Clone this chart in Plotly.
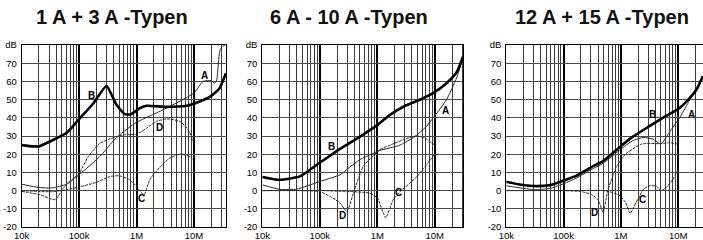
import math
import plotly.graph_objects as go

# ---------------- text / ticks ----------------
titles = ["1 A + 3 A -Typen", "6 A - 10 A -Typen", "12 A + 15 A -Typen"]
x_tick_vals = [1e4, 1e5, 1e6, 1e7]
x_tick_text = ["10k", "100k", "1M", "10M"]
y_tick_vals = [-20, -10, 0, 10, 20, 30, 40, 50, 60, 70, 80]
y_tick_text = ["-20", "-10", "0", "10", "20", "30", "40", "50", "60", "70", "dB"]

# ---------------- panel 1: 1 A + 3 A ----------------
p1_B_f = [1e4, 1.6e4, 2e4, 3.1e4, 6e4, 1e5, 1.78e5, 3e5, 4.5e5, 6.3e5, 8e5, 1.15e6, 1.5e6,
          3.3e6, 7.4e6, 1.26e7, 1.9e7, 2.8e7, 3.6e7]
p1_B_db = [25, 24.3, 24.3, 27, 31.6, 39.3, 48, 57.5, 47, 42, 42, 45.3, 46.6,
           46, 46.6, 49, 51.5, 56.3, 64.5]
p1_A_f = [1e4, 2e4, 3.5e4, 6e4, 1e5, 2.35e5, 3.5e5, 4.8e5, 1e6, 2e6, 3.4e6, 6e6, 1e7,
          1.44e7, 2e7, 2.3e7, 2.5e7, 2.7e7, 2.85e7, 3.2e7, 3.5e7]
p1_A_db = [3.5, 1.7, 1.5, 3.5, 8.7, 19, 25.5, 30, 37.5, 42, 45.5, 49.5, 53.5,
           60, 60.4, 59, 60.8, 71.8, 77.3, 79.5, 80]
p1_C_f = [1e4, 2e4, 3.5e4, 6e4, 1e5, 2e5, 3.5e5, 5.1e5, 7.6e5, 1e6, 1.35e6, 1.7e6, 2.6e6,
          3.8e6, 5.7e6, 8.5e6, 1e7]
p1_C_db = [0, -0.5, -0.6, 0.5, 2, 4.5, 7.8, 8.1, 5.9, 2.3, -2.3, 5.9, 13.2,
           17.9, 20, 18.7, 16.5]
p1_D_f = [1e4, 2.1e4, 3.8e4, 5.6e4, 1e5, 1.45e5, 2.3e5, 3.5e5, 5.9e5, 1e6, 1.5e6, 2.2e6,
          3.4e6, 5.7e6, 8e6, 1e7]
p1_D_db = [-0.4, -2.3, -5, 2.3, 9.6, 18.8, 26, 28.5, 30.6, 31, 34.3, 38,
           39.4, 38, 33.4, 26.1]

# ---------------- panel 2: 6 A - 10 A ----------------
p2_B_f = [1e4, 1.8e4, 2.2e4, 4.5e4, 1e5, 2.25e5, 5e5, 1e6, 1.66e6, 3e6, 5.5e6, 9.3e6,
          1.6e7, 2.4e7, 3.1e7]
p2_B_db = [7.5, 6, 6, 7.8, 15.3, 22.9, 29.7, 36, 41.6, 46.5, 49.9, 53.5,
           59, 65, 73.5]
p2_A_f = [1e4, 2e4, 4e4, 1e5, 2.25e5, 3.35e5, 5e5, 1.1e6, 2.5e6, 4.5e6, 7e6, 9.4e6,
          1.6e7, 2.4e7, 3.1e7]
p2_A_db = [3.2, 0.7, 0.8, 5, 8.7, 13, 17, 22, 25, 29.7, 35, 40,
           50, 62, 73]
p2_C_f = [1e4, 1e5, 3.35e5, 7.4e5, 1e6, 1.27e6, 1.4e6, 1.9e6, 2.5e6, 3.5e6, 4.9e6, 1e7]
p2_C_db = [0, 0, -0.5, -1.4, -4, -12.3, -15, -5, -0.5, 3.5, 7.7, 20]
p2_D_f = [1e4, 5e4, 1e5, 1.5e5, 2.25e5, 2.95e5, 4e5, 5.7e5, 1.1e6, 2e6, 3.5e6, 5e6,
          7e6, 1e7]
p2_D_db = [0, 0, -0.5, -3.2, -6.8, -11.5, 0.3, 13.3, 22.4, 26, 29, 30,
           28.5, 25]

# ---------------- panel 3: 12 A + 15 A ----------------
p3_B_f = [1e4, 1.7e4, 3e4, 5.8e4, 1e5, 1.7e5, 3e5, 4.9e5, 9.6e5, 1.6e6, 3e6, 5.4e6,
          1e7, 1.6e7, 2.1e7, 2.7e7]
p3_B_db = [4.9, 3.3, 2.5, 3, 5.5, 8.2, 12.8, 16.2, 24, 29.5, 35, 40,
           44.8, 51, 55.7, 63]
p3_A_f = [1e4, 2e4, 3.4e4, 6e4, 1e5, 1.7e5, 3e5, 4.9e5, 1e6, 1.6e6, 2.5e6, 3.6e6,
          5e6, 7e6, 1.07e7, 1.5e7, 1.7e7, 2.1e7, 2.7e7]
p3_A_db = [2.7, 1.2, 0.5, 1.3, 3.8, 7, 11.5, 15, 22.8, 27.4, 29.2, 28.3,
           25.6, 32, 40.2, 48.4, 51.5, 55.7, 63]
p3_C_f = [1e4, 1e5, 5e5, 7e5, 9.6e5, 1.2e6, 1.45e6, 1.85e6, 2.5e6, 3.2e6, 4.2e6, 5e6,
          5.8e6, 8.2e6, 1e7]
p3_C_db = [0, 0, 0, -1, -2.8, -6.4, -12.5, -6.4, 0.9, 2.7, 2.4, 0,
           0.9, 6.4, 11.9]
p3_D_f = [1e4, 1e5, 2e5, 3e5, 4e5, 4.9e5, 5.9e5, 8.3e5, 1.2e6, 2.3e6, 5e6, 7e6, 1e7]
p3_D_db = [0, 0, -0.5, -2, -5, -12, 0, 12.8, 20, 25.6, 25.8, 26.3, 25.5]

# curve-label anchor points (frequency, dB) per panel
p1_labels = [("A", 1.55e7, 63.5), ("B", 1.66e5, 52), ("C", 1.2e6, -4.6), ("D", 2.5e6, 34.7)]
p2_labels = [("A", 1.56e7, 43.8), ("B", 1.63e5, 24.2), ("C", 2.3e6, -1), ("D", 2.47e5, -13.8)]
p3_labels = [("A", 1.7e7, 41.6), ("B", 3.5e6, 41.6), ("C", 2.4e6, -5), ("D", 3.5e5, -12.3)]

panels = [
    dict(B=(p1_B_f, p1_B_db), A=(p1_A_f, p1_A_db), C=(p1_C_f, p1_C_db), D=(p1_D_f, p1_D_db),
         labels=p1_labels),
    dict(B=(p2_B_f, p2_B_db), A=(p2_A_f, p2_A_db), C=(p2_C_f, p2_C_db), D=(p2_D_f, p2_D_db),
         labels=p2_labels),
    dict(B=(p3_B_f, p3_B_db), A=(p3_A_f, p3_A_db), C=(p3_C_f, p3_C_db), D=(p3_D_f, p3_D_db),
         labels=p3_labels),
]

# ---------------- layout geometry ----------------
W, H = 703, 240
M_L, M_R, M_T, M_B = 0, 0, 45, 13
x_domains_px = [(21.7, 226.0), (262.3, 463.3), (506.3, 703.0)]
x_ranges = [[4, 7.559], [4, 7.496], [4, 7.433]]
title_centers_px = [112, 349, 602]

FONT = "Liberation Sans, Arial, sans-serif"
fig = go.Figure()

styles = {
    "A": dict(color="#2a2a2a", width=1, shape="spline", smoothing=0.5),
    "C": dict(color="#2a2a2a", width=1, dash="3px,1px", shape="spline", smoothing=0.5),
    "D": dict(color="#2a2a2a", width=1, dash="3px,1px", shape="spline", smoothing=0.5),
    "B": dict(color="#000000", width=2.6, shape="spline", smoothing=0.5),
}

plot_h = H - M_T - M_B
for i, p in enumerate(panels):
    sfx = "" if i == 0 else str(i + 1)
    for key in ["A", "C", "D", "B"]:
        f, db = p[key]
        fig.add_trace(go.Scatter(x=f, y=db, mode="lines", line=styles[key],
                                 xaxis="x" + sfx, yaxis="y" + sfx,
                                 showlegend=False, hoverinfo="skip"))
    for (txt, fx, dy) in p["labels"]:
        fig.add_annotation(x=math.log10(fx), y=dy, xref="x" + sfx, yref="y" + sfx,
                           text="<b>%s</b>" % txt, showarrow=False,
                           font=dict(family=FONT, size=10, color="#000"))
    d0, d1 = x_domains_px[i]
    xa = dict(type="log", domain=[d0 / W, d1 / W], range=x_ranges[i], anchor="y" + sfx,
              tickvals=x_tick_vals, ticktext=x_tick_text, ticks="", automargin=False,
              showgrid=True, gridcolor="#000", gridwidth=2,
              minor=dict(dtick="D1", showgrid=True, gridcolor="#3a3a3a", gridwidth=1, ticks=""),
              showline=True, linecolor="#000", linewidth=1, mirror=True,
              zeroline=False, tickfont=dict(family=FONT, size=9.5, color="#000"),
              ticklabelstandoff=0)
    ya = dict(domain=[0, 1], range=[-20, 80], anchor="x" + sfx,
              tickvals=y_tick_vals, ticktext=y_tick_text, ticks="", automargin=False,
              showgrid=True, gridcolor="#4a4a4a", gridwidth=1,
              showline=True, linecolor="#000", linewidth=1, mirror=True,
              zeroline=False, tickfont=dict(family=FONT, size=9.5, color="#000"),
              ticklabelstandoff=2)
    fig.layout["xaxis" + sfx] = xa
    fig.layout["yaxis" + sfx] = ya
    fig.add_annotation(x=title_centers_px[i] / W, y=(H - M_B - 17) / plot_h,
                       xref="paper", yref="paper", xanchor="center", yanchor="middle",
                       text="<b>%s</b>" % titles[i], showarrow=False,
                       font=dict(family=FONT, size=20, color="#111"))

fig.update_layout(width=W, height=H, margin=dict(l=M_L, r=M_R, t=M_T, b=M_B, autoexpand=False),
                  paper_bgcolor="white", plot_bgcolor="white", showlegend=False)

fig.write_html("out.html", config={"displayModeBar": False, "staticPlot": True},
               post_script="document.body.style.margin='0px';document.body.style.overflow='hidden';")
